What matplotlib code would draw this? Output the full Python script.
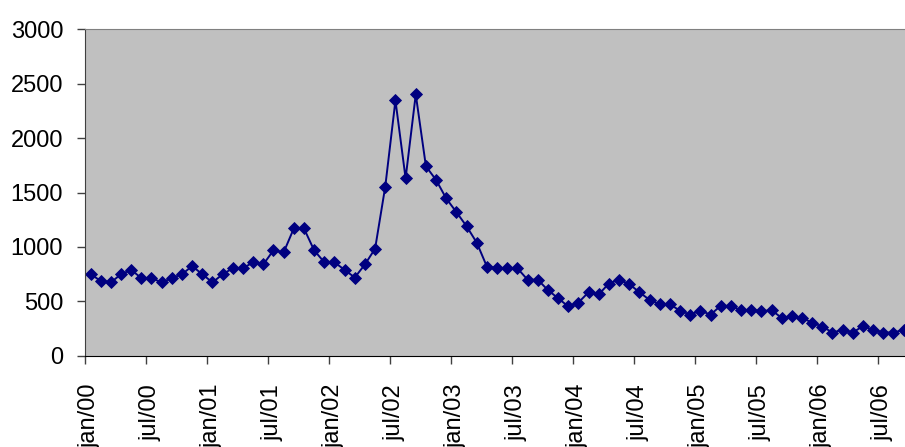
import matplotlib.pyplot as plt
import matplotlib.transforms as mtransforms

# monthly values, jan/00 .. sep/06
values = [750, 690, 675, 750, 790, 715, 715, 675, 715, 750, 825, 750,
          675, 750, 805, 805, 860, 840, 970, 950, 1170, 1170, 970, 860,
          860, 790, 720, 840, 985, 1555, 2345, 1630, 2400, 1740, 1615, 1445,
          1320, 1190, 1040, 820, 805, 805, 805, 700, 700, 605, 530, 455,
          490, 585, 565, 665, 700, 660, 585, 515, 475, 475, 415, 380,
          415, 380, 460, 460, 420, 420, 410, 420, 350, 365, 350, 305,
          270, 215, 240, 215, 275, 240, 215, 215, 240]

tick_labels = ["jan/00", "jul/00", "jan/01", "jul/01", "jan/02", "jul/02",
               "jan/03", "jul/03", "jan/04", "jul/04", "jan/05", "jul/05",
               "jan/06", "jul/06"]

plt.rcParams['font.family'] = ['Liberation Sans', 'DejaVu Sans']

fig = plt.figure(figsize=(9.05, 4.47), dpi=100)
ax = fig.add_axes([0.0944, 0.2036, 0.9434, 0.7315])
ax.set_facecolor("#C0C0C0")

x = list(range(len(values)))
ax.plot(x, values, color="#000080", lw=1.4, marker="D", markersize=6.3,
        markeredgewidth=0.6, markeredgecolor="#000080", markerfacecolor="#000080")

ax.set_xlim(-0.5, 83.5)
ax.set_ylim(0, 3000)
ax.set_yticks(range(0, 3001, 500))
ax.set_xticks([-0.5 + 6 * k for k in range(len(tick_labels))])
ax.set_xticklabels(tick_labels, rotation=90)

ax.tick_params(axis="both", direction="out", length=6, width=1, labelsize=17,
               color="#404040")
ax.tick_params(axis="y", pad=10)
ax.tick_params(axis="x", pad=14)

# nudge the rotated month labels a little to the right of their ticks
shift = mtransforms.ScaledTranslation(4 / 100, 0, fig.dpi_scale_trans)
for lbl in ax.get_xticklabels():
    lbl.set_transform(lbl.get_transform() + shift)

for side in ["top", "right"]:
    ax.spines[side].set_color("#808080")
ax.spines["left"].set_color("#404040")
ax.spines["bottom"].set_color("black")

fig.savefig("out.png", dpi=100)
